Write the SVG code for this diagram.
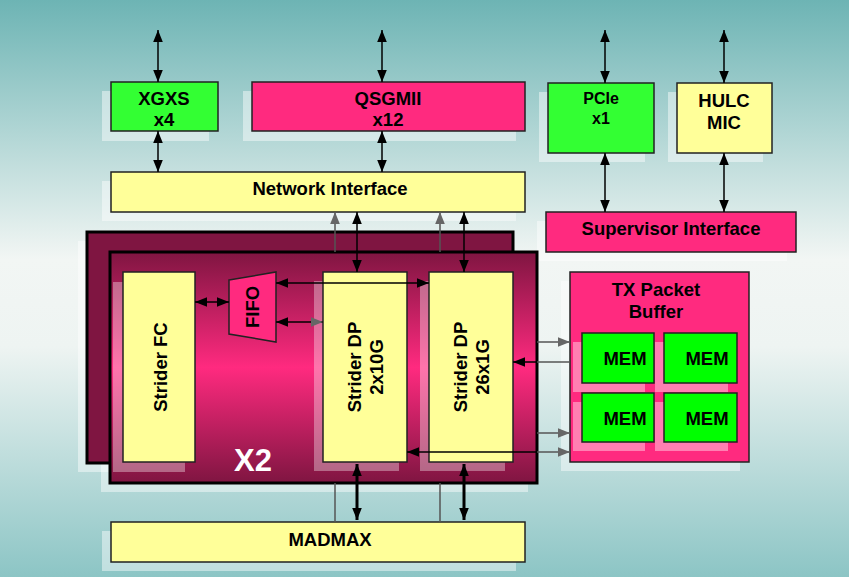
<svg xmlns="http://www.w3.org/2000/svg" width="849" height="577" viewBox="0 0 849 577">
<defs>
<linearGradient id="bg" x1="0" y1="0" x2="0" y2="1">
<stop offset="0" stop-color="#6db4b4"/><stop offset="0.45" stop-color="#f2f6f4"/><stop offset="0.6" stop-color="#eef4f2"/><stop offset="1" stop-color="#8cc5c5"/>
</linearGradient>
<linearGradient id="x2" x1="0" y1="0" x2="0" y2="1">
<stop offset="0" stop-color="#7f1541"/><stop offset="0.5" stop-color="#ff2a7f"/><stop offset="1" stop-color="#7f1541"/>
</linearGradient>
<marker id="a" viewBox="0 0 10 10" refX="10" refY="5" markerWidth="8" markerHeight="8" orient="auto-start-reverse"><path d="M0,1L10,5L0,9z" fill="#000"/></marker>
<marker id="g" viewBox="0 0 10 10" refX="10" refY="5" markerWidth="8" markerHeight="8" orient="auto-start-reverse"><path d="M0,1L10,5L0,9z" fill="#666"/></marker>
<marker id="t" viewBox="0 0 10 10" refX="10" refY="5" markerWidth="4" markerHeight="4" orient="auto-start-reverse"><path d="M0,1L10,5L0,9z" fill="#000"/></marker>
</defs>
<style>
.b{stroke:#222;stroke-width:1.5}
.sh{fill:#fff;opacity:0.45}
.t{font-family:"Liberation Sans",Arial,sans-serif;font-weight:bold;font-size:18.5px;fill:#000;text-anchor:middle}
.k{stroke:#000;stroke-width:1.5;fill:none}
.gr{stroke:#555;stroke-width:1.5;fill:none}
</style>
<rect width="849" height="577" fill="url(#bg)"/>
<g id="shadows">
<rect class="sh" x="102" y="91" width="107" height="50"/>
<rect class="sh" x="243" y="91" width="273" height="50"/>
<rect class="sh" x="539" y="92" width="106" height="70"/>
<rect class="sh" x="668" y="92" width="95" height="70"/>
<rect class="sh" x="102" y="181" width="414" height="40"/>
<rect class="sh" x="537" y="221" width="250" height="40"/>
<rect class="sh" x="78" y="241" width="426" height="231"/>
<rect class="sh" x="101" y="261" width="427" height="231"/>
<rect class="sh" x="561" y="281" width="179" height="190"/>
<rect class="sh" x="102" y="531" width="414" height="40"/>
</g>
<g id="x2back"><rect x="87" y="232" width="426" height="231" fill="#7f1541" stroke="#000" stroke-width="3"/></g>
<g id="x2front"><rect x="110" y="252" width="427" height="231" fill="url(#x2)" stroke="#000" stroke-width="3"/>
<rect x="113" y="282" width="72" height="190" fill="#fff" opacity="0.35"/>
<rect x="314" y="281" width="85" height="190" fill="#fff" opacity="0.35"/>
<rect x="420" y="281" width="85" height="190" fill="#fff" opacity="0.35"/>
<text x="253" y="471" style="font-family:'Liberation Sans',Arial,sans-serif;font-weight:bold;font-size:31px;fill:#fff;text-anchor:middle">X2</text></g>
<g id="xgxs"><rect class="b" x="111" y="82" width="107" height="49" fill="#33ff33"/><text class="t" x="164" y="105">XGXS</text><text class="t" x="164" y="126">x4</text></g>
<g id="qsgmii"><rect class="b" x="252" y="82" width="273" height="49" fill="#ff2a7f"/><text class="t" x="388" y="105">QSGMII</text><text class="t" x="388" y="126">x12</text></g>
<g id="pcie"><rect class="b" x="548" y="83" width="106" height="70" fill="#33ff33"/><text class="t" x="601" y="104" style="font-size:16px">PCIe</text><text class="t" x="601" y="124" style="font-size:16px">x1</text></g>
<g id="hulc"><rect class="b" x="677" y="83" width="95" height="70" fill="#ffff99"/><text class="t" x="724" y="107">HULC</text><text class="t" x="724" y="129">MIC</text></g>
<g id="ni"><rect class="b" x="111" y="172" width="414" height="40" fill="#ffff99"/><text class="t" x="330" y="195">Network Interface</text></g>
<g id="si"><rect class="b" x="546" y="212" width="250" height="40" fill="#ff2a7f"/><text class="t" x="671" y="235">Supervisor Interface</text></g>
<g id="fc"><rect class="b" x="123" y="272" width="72" height="190" fill="#ffff99"/><text class="t" transform="translate(160,367) rotate(-90)" y="7">Strider FC</text></g>
<g id="fifo"><polygon class="b" points="229,280 276,272 276,342 229,334" fill="#ff2a7f"/><text class="t" transform="translate(252,307) rotate(-90)" y="7">FIFO</text></g>
<g id="dp10"><rect class="b" x="323" y="272" width="84" height="190" fill="#ffff99"/><text class="t" transform="translate(365,367) rotate(-90)"><tspan x="0" y="-4">Strider DP</tspan><tspan x="0" y="18">2x10G</tspan></text></g>
<g id="dp1"><rect class="b" x="429" y="272" width="84" height="190" fill="#ffff99"/><text class="t" transform="translate(471,367) rotate(-90)"><tspan x="0" y="-4">Strider DP</tspan><tspan x="0" y="18">26x1G</tspan></text></g>
<g id="txbuf"><rect class="b" x="570" y="272" width="179" height="190" fill="#ff2a7f"/><text class="t" x="656" y="296">TX Packet</text><text class="t" x="656" y="318">Buffer</text>
<rect x="573" y="342" width="72" height="50" fill="#fff" opacity="0.4"/><rect x="655" y="342" width="73" height="50" fill="#fff" opacity="0.4"/><rect x="573" y="402" width="72" height="49" fill="#fff" opacity="0.4"/><rect x="655" y="402" width="73" height="49" fill="#fff" opacity="0.4"/></g>
<g id="mem1"><rect class="b" x="582" y="333" width="72" height="50" fill="#00ff00"/><text class="t" x="625" y="365">MEM</text></g>
<g id="mem2"><rect class="b" x="664" y="333" width="73" height="50" fill="#00ff00"/><text class="t" x="707" y="365">MEM</text></g>
<g id="mem3"><rect class="b" x="582" y="393" width="72" height="49" fill="#00ff00"/><text class="t" x="625" y="425">MEM</text></g>
<g id="mem4"><rect class="b" x="664" y="393" width="73" height="49" fill="#00ff00"/><text class="t" x="707" y="425">MEM</text></g>
<g id="madmax"><rect class="b" x="111" y="522" width="414" height="40" fill="#ffff99"/><text class="t" x="330" y="546">MADMAX</text></g>
<g id="connectors">
<line class="k" x1="158" y1="30" x2="158" y2="82" marker-start="url(#a)" marker-end="url(#a)"/>
<line class="k" x1="158" y1="131" x2="158" y2="172" marker-start="url(#a)" marker-end="url(#a)"/>
<line class="k" x1="382" y1="30" x2="382" y2="82" marker-start="url(#a)" marker-end="url(#a)"/>
<line class="k" x1="382" y1="131" x2="382" y2="172" marker-start="url(#a)" marker-end="url(#a)"/>
<line class="k" x1="605" y1="30" x2="605" y2="83" marker-start="url(#a)" marker-end="url(#a)"/>
<line class="k" x1="605" y1="153" x2="605" y2="212" marker-start="url(#a)" marker-end="url(#a)"/>
<line class="k" x1="724" y1="30" x2="724" y2="83" marker-start="url(#a)" marker-end="url(#a)"/>
<line class="k" x1="724" y1="153" x2="724" y2="212" marker-start="url(#a)" marker-end="url(#a)"/>
<line class="gr" x1="335" y1="252" x2="335" y2="212" marker-end="url(#g)"/>
<line class="gr" x1="440" y1="252" x2="440" y2="212" marker-end="url(#g)"/>
<line class="k" x1="357" y1="212" x2="357" y2="272" marker-start="url(#a)" marker-end="url(#a)"/>
<line class="k" x1="464" y1="212" x2="464" y2="272" marker-start="url(#a)" marker-end="url(#a)"/>
<line class="k" x1="195" y1="302" x2="229" y2="302" marker-start="url(#a)" marker-end="url(#a)"/>
<line class="k" x1="276" y1="283" x2="429" y2="283" marker-start="url(#a)" marker-end="url(#a)"/>
<line class="k" x1="276" y1="322" x2="323" y2="322" marker-start="url(#a)" marker-end="url(#g)"/>
<line class="gr" x1="537" y1="342" x2="570" y2="342" marker-end="url(#g)"/>
<line class="gr" x1="537" y1="362" x2="570" y2="362"/>
<line class="k" x1="537" y1="362" x2="513" y2="362" marker-end="url(#a)"/>
<line class="gr" x1="537" y1="433" x2="570" y2="433" marker-end="url(#g)"/>
<line class="gr" x1="537" y1="452" x2="570" y2="452" marker-end="url(#g)"/>
<line class="k" x1="537" y1="452" x2="407" y2="452" marker-end="url(#a)"/>
<line class="gr" x1="335" y1="483" x2="335" y2="522"/>
<line class="gr" x1="440" y1="483" x2="440" y2="522"/>
<line x1="357" y1="464" x2="357" y2="520" stroke="#000" stroke-width="3" marker-start="url(#t)" marker-end="url(#t)"/>
<line x1="464" y1="464" x2="464" y2="520" stroke="#000" stroke-width="3" marker-start="url(#t)" marker-end="url(#t)"/>
</g>
</svg>
